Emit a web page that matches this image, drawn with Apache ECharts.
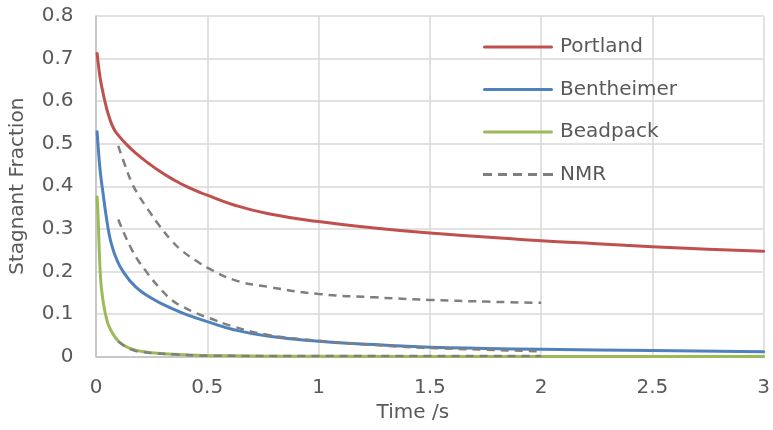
<!DOCTYPE html>
<html>
<head>
<meta charset="utf-8">
<script src="https://cdn.jsdelivr.net/npm/echarts@6/dist/echarts.min.js"></script>
<style>
html,body{margin:0;padding:0;background:#fff;}
#chart{width:773px;height:430px;}
</style>
</head>
<body>
<div id="chart"></div>
<script>
// ---- data ----
var xTicks = [0, 0.5, 1, 1.5, 2, 2.5, 3];
var yTicks = [0, 0.1, 0.2, 0.3, 0.4, 0.5, 0.6, 0.7, 0.8];
var legendNames = ['Portland', 'Bentheimer', 'Beadpack', 'NMR'];

var portlandT = [0.005, 0.012, 0.02, 0.029, 0.042, 0.059, 0.08, 0.1, 0.132, 0.18, 0.236, 0.29, 0.34, 0.42, 0.5, 0.62, 0.77, 1.0, 1.25, 1.5, 1.75, 2.0, 2.25, 2.5, 2.75, 3.0];
var portlandV = [0.712, 0.68, 0.65, 0.626, 0.595, 0.563, 0.535, 0.52, 0.501, 0.477, 0.454, 0.434, 0.418, 0.396, 0.379, 0.356, 0.336, 0.317, 0.302, 0.29, 0.281, 0.272, 0.265, 0.258, 0.252, 0.247];

var bentT = [0.005, 0.01, 0.02, 0.03, 0.044, 0.06, 0.073, 0.09, 0.118, 0.177, 0.25, 0.34, 0.42, 0.5, 0.62, 0.77, 1.0, 1.25, 1.5, 1.75, 2.0, 2.5, 3.0];
var bentV = [0.528, 0.49, 0.43, 0.39, 0.336, 0.285, 0.258, 0.232, 0.203, 0.164, 0.137, 0.113, 0.096, 0.082, 0.063, 0.048, 0.036, 0.028, 0.022, 0.019, 0.017, 0.014, 0.011];

var beadT = [0.005, 0.01, 0.014, 0.021, 0.028, 0.036, 0.046, 0.059, 0.08, 0.103, 0.14, 0.177, 0.23, 0.28, 0.35, 0.45, 0.6, 1.0, 2.0, 3.0];
var beadV = [0.375, 0.32, 0.258, 0.18, 0.145, 0.117, 0.092, 0.07, 0.05, 0.035, 0.022, 0.015, 0.01, 0.0075, 0.005, 0.003, 0.0015, 0.0005, 0, 0];

var nmr1T = [0.1, 0.13, 0.162, 0.19, 0.221, 0.25, 0.281, 0.34, 0.39, 0.45, 0.5, 0.62, 0.77, 1.0, 1.25, 1.5, 1.75, 2.0];
var nmr1V = [0.495, 0.45, 0.407, 0.38, 0.355, 0.333, 0.31, 0.272, 0.247, 0.225, 0.209, 0.18, 0.164, 0.147, 0.139, 0.133, 0.129, 0.126];

var nmr2T = [0.1, 0.13, 0.162, 0.19, 0.221, 0.25, 0.281, 0.34, 0.39, 0.45, 0.5, 0.62, 0.77, 1.0, 1.25, 1.5, 1.75, 2.0];
var nmr2V = [0.322, 0.285, 0.25, 0.225, 0.203, 0.183, 0.164, 0.133, 0.117, 0.102, 0.092, 0.07, 0.051, 0.037, 0.027, 0.02, 0.016, 0.012];

var nmr3T = [0.1, 0.13, 0.16, 0.2, 0.27, 0.35, 0.5, 1.0, 1.5, 2.0];
var nmr3V = [0.035, 0.024, 0.016, 0.011, 0.0075, 0.005, 0.002, 0.001, 0.001, 0.001];

function pairs(t, v) { return t.map(function (x, i) { return [x, v[i]]; }); }

var FONT = 'DejaVu Sans';
var FS = 20;
var TXT = '#595959';

function solid(name, color, t, v) {
  return {
    name: name, type: 'line', data: pairs(t, v),
    smooth: 0.5,
    symbol: 'none', showSymbol: false,
    lineStyle: { color: color, width: 3, cap: 'round', join: 'round' },
    itemStyle: { color: color },
    z: 3
  };
}
function dashed(t, v) {
  return {
    name: 'NMR', type: 'line', data: pairs(t, v),
    smooth: 0.5,
    symbol: 'none', showSymbol: false,
    lineStyle: { color: '#7F7F7F', width: 2.5, type: [8, 6] },
    itemStyle: { color: '#7F7F7F' },
    z: 4
  };
}

var SOLID_ICON = 'path://M1.5,0H68.5A1.5,1.5 0 0 1 68.5,3H1.5A1.5,1.5 0 0 1 1.5,0Z';
var DASH_ICON = 'path://M0,0H9V3H0Z M15,0H24V3H15Z M30,0H39V3H30Z M45,0H54V3H45Z M60,0H70V3H60Z';

var chart = echarts.init(document.getElementById('chart'));
chart.setOption({
  animation: false,
  backgroundColor: '#fff',
  textStyle: { fontFamily: FONT },
  grid: { left: 93.5, right: 4, top: 16, bottom: 73.5, containLabel: false },
  legend: {
    orient: 'vertical', left: 483, top: 36, padding: 0,
    itemWidth: 70, itemHeight: 3, itemGap: 20.5,
    data: legendNames.map(function (n) {
      return { name: n, icon: n === 'NMR' ? DASH_ICON : SOLID_ICON };
    }),
    textStyle: { fontFamily: FONT, fontSize: FS, color: TXT, lineHeight: 22, padding: [0, 0, 0, 2] }
  },
  xAxis: {
    type: 'value', min: 0, max: 3, interval: 0.5,
    name: 'Time /s', nameLocation: 'middle', nameGap: 46,
    nameTextStyle: { fontFamily: FONT, fontSize: FS, color: TXT, padding: [0, 34, 0, 0] },
    axisLine: { show: true, lineStyle: { color: '#BFBFBF', width: 1.5 } },
    axisTick: { show: false },
    axisLabel: { fontFamily: FONT, fontSize: FS, color: TXT, margin: 21,
      formatter: function (v) { return xTicks.indexOf(v) >= 0 ? String(v) : ''; } },
    splitLine: { show: true, lineStyle: { color: '#D9D9D9', width: 1.5 } }
  },
  yAxis: {
    type: 'value', min: 0, max: 0.8, interval: 0.1,
    name: 'Stagnant Fraction', nameLocation: 'middle', nameGap: 68,
    nameTextStyle: { fontFamily: FONT, fontSize: FS, color: TXT },
    axisLine: { show: true, lineStyle: { color: '#BFBFBF', width: 1.5 } },
    axisTick: { show: false },
    axisLabel: { fontFamily: FONT, fontSize: FS, color: TXT, margin: 22.5,
      formatter: function (v) { var r = Math.round(v * 10) / 10; return yTicks.indexOf(r) >= 0 ? String(r) : ''; } },
    splitLine: { show: true, lineStyle: { color: '#D9D9D9', width: 1.5 } }
  },
  series: [
    solid('Portland', '#C0504D', portlandT, portlandV),
    solid('Bentheimer', '#4F81BD', bentT, bentV),
    solid('Beadpack', '#9BBB59', beadT, beadV),
    dashed(nmr1T, nmr1V),
    dashed(nmr2T, nmr2V),
    dashed(nmr3T, nmr3V)
  ]
});
</script>
</body>
</html>
